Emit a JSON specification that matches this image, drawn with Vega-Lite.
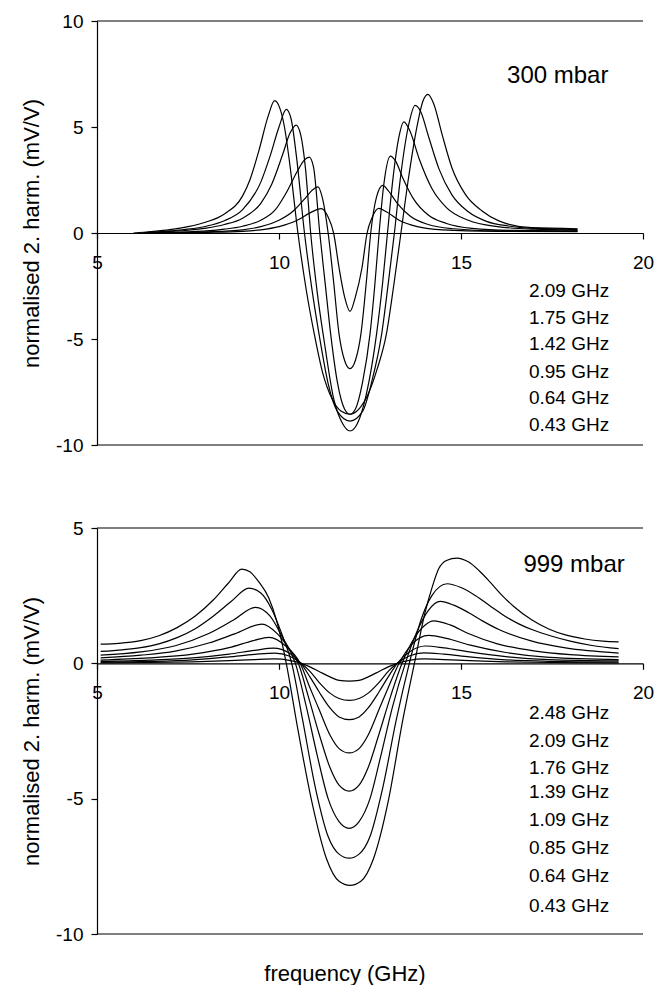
{
"$schema": "https://vega.github.io/schema/vega-lite/v6.json",
"background": "white",
"padding": {"left": 20, "top": 12, "right": 4, "bottom": 4},
"bounds": "flush",
"spacing": 83,
"config": {
 "font": "Liberation Sans",
 "view": {"stroke": null},
 "axis": {"domainColor": "black", "tickColor": "black", "labelColor": "black", "titleColor": "black", "grid": false, "domainWidth": 1.2, "tickWidth": 1.2, "labelFontSize": 19, "titleFontSize": 22, "titleFontWeight": "normal", "labelFont": "Liberation Sans", "titleFont": "Liberation Sans"}
},
"datasets": {
 "top": [
{"m":"2.09 GHz","f":6.0,"v":0.0},{"m":"2.09 GHz","f":6.5,"v":0.07},{"m":"2.09 GHz","f":7.0,"v":0.16},{"m":"2.09 GHz","f":7.5,"v":0.3},{"m":"2.09 GHz","f":8.0,"v":0.52},{"m":"2.09 GHz","f":8.5,"v":0.9},{"m":"2.09 GHz","f":9.0,"v":1.75},{"m":"2.09 GHz","f":9.2,"v":2.5},{"m":"2.09 GHz","f":9.45,"v":3.9},{"m":"2.09 GHz","f":9.7,"v":5.5},{"m":"2.09 GHz","f":9.88,"v":6.24},{"m":"2.09 GHz","f":10.02,"v":5.9},{"m":"2.09 GHz","f":10.15,"v":5.0},{"m":"2.09 GHz","f":10.3,"v":3.2},{"m":"2.09 GHz","f":10.52,"v":0.0},{"m":"2.09 GHz","f":10.75,"v":-2.7},{"m":"2.09 GHz","f":10.97,"v":-4.77},{"m":"2.09 GHz","f":11.2,"v":-6.6},{"m":"2.09 GHz","f":11.45,"v":-7.8},{"m":"2.09 GHz","f":11.7,"v":-8.4},{"m":"2.09 GHz","f":11.95,"v":-8.55},{"m":"2.09 GHz","f":12.2,"v":-8.3},{"m":"2.09 GHz","f":12.45,"v":-7.6},{"m":"2.09 GHz","f":12.7,"v":-6.4},{"m":"2.09 GHz","f":12.95,"v":-4.77},{"m":"2.09 GHz","f":13.15,"v":-2.5},{"m":"2.09 GHz","f":13.35,"v":0.0},{"m":"2.09 GHz","f":13.55,"v":2.5},{"m":"2.09 GHz","f":13.8,"v":5.1},{"m":"2.09 GHz","f":13.95,"v":6.2},{"m":"2.09 GHz","f":14.09,"v":6.54},{"m":"2.09 GHz","f":14.25,"v":6.1},{"m":"2.09 GHz","f":14.48,"v":4.65},{"m":"2.09 GHz","f":14.75,"v":3.08},{"m":"2.09 GHz","f":15.12,"v":1.82},{"m":"2.09 GHz","f":15.58,"v":1.04},{"m":"2.09 GHz","f":16.04,"v":0.57},{"m":"2.09 GHz","f":16.95,"v":0.25},{"m":"2.09 GHz","f":18.2,"v":0.2},
{"m":"1.75 GHz","f":6.2,"v":0.0},{"m":"1.75 GHz","f":7.0,"v":0.1},{"m":"1.75 GHz","f":7.5,"v":0.18},{"m":"1.75 GHz","f":8.0,"v":0.32},{"m":"1.75 GHz","f":8.5,"v":0.58},{"m":"1.75 GHz","f":9.0,"v":1.1},{"m":"1.75 GHz","f":9.5,"v":2.4},{"m":"1.75 GHz","f":9.75,"v":3.6},{"m":"1.75 GHz","f":10.0,"v":5.0},{"m":"1.75 GHz","f":10.2,"v":5.83},{"m":"1.75 GHz","f":10.33,"v":5.4},{"m":"1.75 GHz","f":10.48,"v":3.6},{"m":"1.75 GHz","f":10.7,"v":0.0},{"m":"1.75 GHz","f":10.9,"v":-2.6},{"m":"1.75 GHz","f":11.1,"v":-4.77},{"m":"1.75 GHz","f":11.35,"v":-7.1},{"m":"1.75 GHz","f":11.6,"v":-8.4},{"m":"1.75 GHz","f":11.95,"v":-8.87},{"m":"1.75 GHz","f":12.3,"v":-8.4},{"m":"1.75 GHz","f":12.55,"v":-7.0},{"m":"1.75 GHz","f":12.82,"v":-4.77},{"m":"1.75 GHz","f":13.0,"v":-2.4},{"m":"1.75 GHz","f":13.17,"v":0.0},{"m":"1.75 GHz","f":13.35,"v":2.8},{"m":"1.75 GHz","f":13.55,"v":5.0},{"m":"1.75 GHz","f":13.74,"v":6.02},{"m":"1.75 GHz","f":13.9,"v":5.7},{"m":"1.75 GHz","f":14.1,"v":4.6},{"m":"1.75 GHz","f":14.4,"v":3.0},{"m":"1.75 GHz","f":14.75,"v":1.8},{"m":"1.75 GHz","f":15.2,"v":1.0},{"m":"1.75 GHz","f":15.7,"v":0.55},{"m":"1.75 GHz","f":16.3,"v":0.33},{"m":"1.75 GHz","f":17.0,"v":0.22},{"m":"1.75 GHz","f":18.2,"v":0.17},
{"m":"1.42 GHz","f":6.3,"v":0.0},{"m":"1.42 GHz","f":7.0,"v":0.07},{"m":"1.42 GHz","f":7.5,"v":0.13},{"m":"1.42 GHz","f":8.0,"v":0.23},{"m":"1.42 GHz","f":8.5,"v":0.4},{"m":"1.42 GHz","f":9.0,"v":0.7},{"m":"1.42 GHz","f":9.5,"v":1.4},{"m":"1.42 GHz","f":9.8,"v":2.3},{"m":"1.42 GHz","f":10.1,"v":3.7},{"m":"1.42 GHz","f":10.3,"v":4.7},{"m":"1.42 GHz","f":10.47,"v":5.09},{"m":"1.42 GHz","f":10.6,"v":4.6},{"m":"1.42 GHz","f":10.73,"v":3.0},{"m":"1.42 GHz","f":10.87,"v":0.0},{"m":"1.42 GHz","f":11.05,"v":-2.8},{"m":"1.42 GHz","f":11.25,"v":-5.2},{"m":"1.42 GHz","f":11.5,"v":-7.8},{"m":"1.42 GHz","f":11.75,"v":-9.0},{"m":"1.42 GHz","f":11.95,"v":-9.34},{"m":"1.42 GHz","f":12.15,"v":-9.0},{"m":"1.42 GHz","f":12.4,"v":-7.6},{"m":"1.42 GHz","f":12.68,"v":-4.77},{"m":"1.42 GHz","f":12.85,"v":-2.3},{"m":"1.42 GHz","f":12.98,"v":0.0},{"m":"1.42 GHz","f":13.12,"v":2.4},{"m":"1.42 GHz","f":13.28,"v":4.4},{"m":"1.42 GHz","f":13.43,"v":5.24},{"m":"1.42 GHz","f":13.6,"v":4.8},{"m":"1.42 GHz","f":13.85,"v":3.5},{"m":"1.42 GHz","f":14.2,"v":2.1},{"m":"1.42 GHz","f":14.6,"v":1.2},{"m":"1.42 GHz","f":15.2,"v":0.6},{"m":"1.42 GHz","f":16.0,"v":0.3},{"m":"1.42 GHz","f":17.0,"v":0.18},{"m":"1.42 GHz","f":18.2,"v":0.14},
{"m":"0.95 GHz","f":6.4,"v":0.0},{"m":"0.95 GHz","f":7.5,"v":0.06},{"m":"0.95 GHz","f":8.0,"v":0.1},{"m":"0.95 GHz","f":8.5,"v":0.18},{"m":"0.95 GHz","f":9.0,"v":0.32},{"m":"0.95 GHz","f":9.5,"v":0.6},{"m":"0.95 GHz","f":9.9,"v":1.1},{"m":"0.95 GHz","f":10.2,"v":1.9},{"m":"0.95 GHz","f":10.5,"v":2.9},{"m":"0.95 GHz","f":10.7,"v":3.45},{"m":"0.95 GHz","f":10.83,"v":3.58},{"m":"0.95 GHz","f":10.95,"v":3.1},{"m":"0.95 GHz","f":11.12,"v":0.0},{"m":"0.95 GHz","f":11.27,"v":-2.4},{"m":"0.95 GHz","f":11.42,"v":-4.77},{"m":"0.95 GHz","f":11.6,"v":-7.0},{"m":"0.95 GHz","f":11.8,"v":-8.3},{"m":"0.95 GHz","f":11.95,"v":-8.55},{"m":"0.95 GHz","f":12.1,"v":-8.3},{"m":"0.95 GHz","f":12.3,"v":-7.0},{"m":"0.95 GHz","f":12.5,"v":-4.77},{"m":"0.95 GHz","f":12.63,"v":-2.5},{"m":"0.95 GHz","f":12.75,"v":0.0},{"m":"0.95 GHz","f":12.88,"v":2.3},{"m":"0.95 GHz","f":13.06,"v":3.63},{"m":"0.95 GHz","f":13.2,"v":3.4},{"m":"0.95 GHz","f":13.4,"v":2.6},{"m":"0.95 GHz","f":13.7,"v":1.6},{"m":"0.95 GHz","f":14.1,"v":0.85},{"m":"0.95 GHz","f":14.6,"v":0.45},{"m":"0.95 GHz","f":15.3,"v":0.22},{"m":"0.95 GHz","f":16.5,"v":0.12},{"m":"0.95 GHz","f":18.2,"v":0.1},
{"m":"0.64 GHz","f":6.5,"v":0.0},{"m":"0.64 GHz","f":8.0,"v":0.05},{"m":"0.64 GHz","f":9.0,"v":0.15},{"m":"0.64 GHz","f":9.5,"v":0.3},{"m":"0.64 GHz","f":10.0,"v":0.6},{"m":"0.64 GHz","f":10.4,"v":1.05},{"m":"0.64 GHz","f":10.7,"v":1.6},{"m":"0.64 GHz","f":10.9,"v":2.0},{"m":"0.64 GHz","f":11.07,"v":2.18},{"m":"0.64 GHz","f":11.2,"v":1.6},{"m":"0.64 GHz","f":11.35,"v":0.0},{"m":"0.64 GHz","f":11.5,"v":-2.3},{"m":"0.64 GHz","f":11.65,"v":-4.77},{"m":"0.64 GHz","f":11.8,"v":-6.0},{"m":"0.64 GHz","f":11.95,"v":-6.4},{"m":"0.64 GHz","f":12.1,"v":-6.0},{"m":"0.64 GHz","f":12.25,"v":-4.77},{"m":"0.64 GHz","f":12.4,"v":-2.3},{"m":"0.64 GHz","f":12.52,"v":0.0},{"m":"0.64 GHz","f":12.68,"v":1.7},{"m":"0.64 GHz","f":12.85,"v":2.25},{"m":"0.64 GHz","f":13.0,"v":2.0},{"m":"0.64 GHz","f":13.25,"v":1.4},{"m":"0.64 GHz","f":13.6,"v":0.8},{"m":"0.64 GHz","f":14.1,"v":0.4},{"m":"0.64 GHz","f":14.8,"v":0.2},{"m":"0.64 GHz","f":16.0,"v":0.1},{"m":"0.64 GHz","f":18.2,"v":0.08},
{"m":"0.43 GHz","f":6.5,"v":0.0},{"m":"0.43 GHz","f":8.0,"v":0.03},{"m":"0.43 GHz","f":9.0,"v":0.08},{"m":"0.43 GHz","f":9.5,"v":0.15},{"m":"0.43 GHz","f":10.0,"v":0.3},{"m":"0.43 GHz","f":10.5,"v":0.6},{"m":"0.43 GHz","f":10.85,"v":0.95},{"m":"0.43 GHz","f":11.16,"v":1.15},{"m":"0.43 GHz","f":11.35,"v":0.75},{"m":"0.43 GHz","f":11.5,"v":0.0},{"m":"0.43 GHz","f":11.65,"v":-1.64},{"m":"0.43 GHz","f":11.8,"v":-3.0},{"m":"0.43 GHz","f":11.95,"v":-3.7},{"m":"0.43 GHz","f":12.1,"v":-3.0},{"m":"0.43 GHz","f":12.28,"v":-1.64},{"m":"0.43 GHz","f":12.42,"v":0.0},{"m":"0.43 GHz","f":12.55,"v":0.7},{"m":"0.43 GHz","f":12.74,"v":1.16},{"m":"0.43 GHz","f":12.95,"v":1.0},{"m":"0.43 GHz","f":13.3,"v":0.6},{"m":"0.43 GHz","f":13.8,"v":0.3},{"m":"0.43 GHz","f":14.5,"v":0.15},{"m":"0.43 GHz","f":16.0,"v":0.08},{"m":"0.43 GHz","f":18.2,"v":0.06}
 ],
 "bottom": [
{"m":"2.48 GHz","f":5.1,"v":0.71},{"m":"2.48 GHz","f":5.6,"v":0.74},{"m":"2.48 GHz","f":6.2,"v":0.84},{"m":"2.48 GHz","f":6.7,"v":1.02},{"m":"2.48 GHz","f":7.2,"v":1.32},{"m":"2.48 GHz","f":7.7,"v":1.75},{"m":"2.48 GHz","f":8.2,"v":2.35},{"m":"2.48 GHz","f":8.6,"v":2.95},{"m":"2.48 GHz","f":8.98,"v":3.48},{"m":"2.48 GHz","f":9.2,"v":3.38},{"m":"2.48 GHz","f":9.44,"v":3.02},{"m":"2.48 GHz","f":9.72,"v":2.41},{"m":"2.48 GHz","f":9.95,"v":1.5},{"m":"2.48 GHz","f":10.2,"v":0.0},{"m":"2.48 GHz","f":10.5,"v":-2.3},{"m":"2.48 GHz","f":10.9,"v":-5.1},{"m":"2.48 GHz","f":11.3,"v":-7.2},{"m":"2.48 GHz","f":11.65,"v":-8.05},{"m":"2.48 GHz","f":11.95,"v":-8.2},{"m":"2.48 GHz","f":12.25,"v":-8.05},{"m":"2.48 GHz","f":12.6,"v":-7.2},{"m":"2.48 GHz","f":13.0,"v":-5.1},{"m":"2.48 GHz","f":13.4,"v":-2.1},{"m":"2.48 GHz","f":13.72,"v":0.0},{"m":"2.48 GHz","f":14.02,"v":1.92},{"m":"2.48 GHz","f":14.2,"v":2.78},{"m":"2.48 GHz","f":14.39,"v":3.5},{"m":"2.48 GHz","f":14.6,"v":3.8},{"m":"2.48 GHz","f":14.89,"v":3.89},{"m":"2.48 GHz","f":15.2,"v":3.75},{"m":"2.48 GHz","f":15.5,"v":3.42},{"m":"2.48 GHz","f":15.8,"v":3.0},{"m":"2.48 GHz","f":16.1,"v":2.55},{"m":"2.48 GHz","f":16.45,"v":2.1},{"m":"2.48 GHz","f":16.95,"v":1.6},{"m":"2.48 GHz","f":17.41,"v":1.27},{"m":"2.48 GHz","f":17.87,"v":1.05},{"m":"2.48 GHz","f":18.4,"v":0.9},{"m":"2.48 GHz","f":18.9,"v":0.82},{"m":"2.48 GHz","f":19.33,"v":0.79},
{"m":"2.09 GHz","f":5.1,"v":0.44},{"m":"2.09 GHz","f":5.7,"v":0.5},{"m":"2.09 GHz","f":6.2,"v":0.58},{"m":"2.09 GHz","f":6.7,"v":0.72},{"m":"2.09 GHz","f":7.2,"v":0.95},{"m":"2.09 GHz","f":7.7,"v":1.28},{"m":"2.09 GHz","f":8.2,"v":1.75},{"m":"2.09 GHz","f":8.7,"v":2.3},{"m":"2.09 GHz","f":9.17,"v":2.78},{"m":"2.09 GHz","f":9.5,"v":2.6},{"m":"2.09 GHz","f":9.8,"v":2.0},{"m":"2.09 GHz","f":10.1,"v":1.0},{"m":"2.09 GHz","f":10.35,"v":0.0},{"m":"2.09 GHz","f":10.65,"v":-2.1},{"m":"2.09 GHz","f":11.0,"v":-4.6},{"m":"2.09 GHz","f":11.35,"v":-6.4},{"m":"2.09 GHz","f":11.65,"v":-7.05},{"m":"2.09 GHz","f":11.93,"v":-7.2},{"m":"2.09 GHz","f":12.2,"v":-7.05},{"m":"2.09 GHz","f":12.5,"v":-6.4},{"m":"2.09 GHz","f":12.85,"v":-4.6},{"m":"2.09 GHz","f":13.22,"v":-2.1},{"m":"2.09 GHz","f":13.58,"v":0.0},{"m":"2.09 GHz","f":13.9,"v":1.6},{"m":"2.09 GHz","f":14.2,"v":2.5},{"m":"2.09 GHz","f":14.62,"v":2.94},{"m":"2.09 GHz","f":15.0,"v":2.8},{"m":"2.09 GHz","f":15.4,"v":2.5},{"m":"2.09 GHz","f":15.8,"v":2.12},{"m":"2.09 GHz","f":16.2,"v":1.75},{"m":"2.09 GHz","f":16.6,"v":1.45},{"m":"2.09 GHz","f":17.0,"v":1.22},{"m":"2.09 GHz","f":17.5,"v":1.0},{"m":"2.09 GHz","f":18.0,"v":0.82},{"m":"2.09 GHz","f":18.6,"v":0.66},{"m":"2.09 GHz","f":19.33,"v":0.54},
{"m":"1.76 GHz","f":5.1,"v":0.3},{"m":"1.76 GHz","f":6.2,"v":0.42},{"m":"1.76 GHz","f":7.15,"v":0.65},{"m":"1.76 GHz","f":8.07,"v":1.1},{"m":"1.76 GHz","f":8.75,"v":1.6},{"m":"1.76 GHz","f":9.35,"v":2.07},{"m":"1.76 GHz","f":9.75,"v":1.75},{"m":"1.76 GHz","f":10.1,"v":0.95},{"m":"1.76 GHz","f":10.45,"v":0.0},{"m":"1.76 GHz","f":10.75,"v":-1.6},{"m":"1.76 GHz","f":11.05,"v":-3.4},{"m":"1.76 GHz","f":11.35,"v":-5.0},{"m":"1.76 GHz","f":11.65,"v":-5.85},{"m":"1.76 GHz","f":11.93,"v":-6.1},{"m":"1.76 GHz","f":12.2,"v":-5.85},{"m":"1.76 GHz","f":12.5,"v":-5.0},{"m":"1.76 GHz","f":12.8,"v":-3.4},{"m":"1.76 GHz","f":13.12,"v":-1.6},{"m":"1.76 GHz","f":13.47,"v":0.0},{"m":"1.76 GHz","f":13.8,"v":1.2},{"m":"1.76 GHz","f":14.1,"v":1.95},{"m":"1.76 GHz","f":14.43,"v":2.29},{"m":"1.76 GHz","f":14.8,"v":2.15},{"m":"1.76 GHz","f":15.2,"v":1.88},{"m":"1.76 GHz","f":15.6,"v":1.56},{"m":"1.76 GHz","f":16.04,"v":1.25},{"m":"1.76 GHz","f":16.95,"v":0.82},{"m":"1.76 GHz","f":17.87,"v":0.57},{"m":"1.76 GHz","f":19.33,"v":0.38},
{"m":"1.39 GHz","f":5.1,"v":0.2},{"m":"1.39 GHz","f":6.2,"v":0.3},{"m":"1.39 GHz","f":7.15,"v":0.45},{"m":"1.39 GHz","f":8.07,"v":0.75},{"m":"1.39 GHz","f":8.8,"v":1.1},{"m":"1.39 GHz","f":9.53,"v":1.45},{"m":"1.39 GHz","f":9.95,"v":1.1},{"m":"1.39 GHz","f":10.25,"v":0.6},{"m":"1.39 GHz","f":10.53,"v":0.0},{"m":"1.39 GHz","f":10.8,"v":-1.2},{"m":"1.39 GHz","f":11.1,"v":-2.6},{"m":"1.39 GHz","f":11.4,"v":-3.85},{"m":"1.39 GHz","f":11.65,"v":-4.5},{"m":"1.39 GHz","f":11.93,"v":-4.72},{"m":"1.39 GHz","f":12.2,"v":-4.5},{"m":"1.39 GHz","f":12.45,"v":-3.85},{"m":"1.39 GHz","f":12.75,"v":-2.6},{"m":"1.39 GHz","f":13.07,"v":-1.2},{"m":"1.39 GHz","f":13.38,"v":0.0},{"m":"1.39 GHz","f":13.7,"v":0.9},{"m":"1.39 GHz","f":14.0,"v":1.4},{"m":"1.39 GHz","f":14.25,"v":1.57},{"m":"1.39 GHz","f":14.7,"v":1.42},{"m":"1.39 GHz","f":15.2,"v":1.1},{"m":"1.39 GHz","f":16.0,"v":0.72},{"m":"1.39 GHz","f":17.0,"v":0.46},{"m":"1.39 GHz","f":18.0,"v":0.32},{"m":"1.39 GHz","f":19.33,"v":0.24},
{"m":"1.09 GHz","f":5.1,"v":0.12},{"m":"1.09 GHz","f":6.43,"v":0.2},{"m":"1.09 GHz","f":7.63,"v":0.34},{"m":"1.09 GHz","f":8.63,"v":0.58},{"m":"1.09 GHz","f":9.3,"v":0.84},{"m":"1.09 GHz","f":9.72,"v":0.96},{"m":"1.09 GHz","f":10.2,"v":0.62},{"m":"1.09 GHz","f":10.58,"v":0.0},{"m":"1.09 GHz","f":10.85,"v":-0.9},{"m":"1.09 GHz","f":11.1,"v":-1.7},{"m":"1.09 GHz","f":11.4,"v":-2.65},{"m":"1.09 GHz","f":11.65,"v":-3.15},{"m":"1.09 GHz","f":11.93,"v":-3.31},{"m":"1.09 GHz","f":12.2,"v":-3.15},{"m":"1.09 GHz","f":12.45,"v":-2.65},{"m":"1.09 GHz","f":12.75,"v":-1.7},{"m":"1.09 GHz","f":13.0,"v":-0.9},{"m":"1.09 GHz","f":13.3,"v":0.0},{"m":"1.09 GHz","f":13.65,"v":0.7},{"m":"1.09 GHz","f":14.11,"v":1.03},{"m":"1.09 GHz","f":14.6,"v":0.92},{"m":"1.09 GHz","f":15.23,"v":0.68},{"m":"1.09 GHz","f":16.23,"v":0.4},{"m":"1.09 GHz","f":17.43,"v":0.22},{"m":"1.09 GHz","f":19.33,"v":0.14},
{"m":"0.85 GHz","f":5.1,"v":0.07},{"m":"0.85 GHz","f":6.43,"v":0.12},{"m":"0.85 GHz","f":7.63,"v":0.2},{"m":"0.85 GHz","f":8.63,"v":0.34},{"m":"0.85 GHz","f":9.33,"v":0.48},{"m":"0.85 GHz","f":9.85,"v":0.56},{"m":"0.85 GHz","f":10.28,"v":0.38},{"m":"0.85 GHz","f":10.6,"v":0.0},{"m":"0.85 GHz","f":10.85,"v":-0.5},{"m":"0.85 GHz","f":11.1,"v":-1.05},{"m":"0.85 GHz","f":11.4,"v":-1.65},{"m":"0.85 GHz","f":11.65,"v":-1.98},{"m":"0.85 GHz","f":11.93,"v":-2.08},{"m":"0.85 GHz","f":12.2,"v":-1.98},{"m":"0.85 GHz","f":12.45,"v":-1.65},{"m":"0.85 GHz","f":12.75,"v":-1.05},{"m":"0.85 GHz","f":13.0,"v":-0.5},{"m":"0.85 GHz","f":13.25,"v":0.0},{"m":"0.85 GHz","f":13.58,"v":0.42},{"m":"0.85 GHz","f":14.02,"v":0.64},{"m":"0.85 GHz","f":14.53,"v":0.57},{"m":"0.85 GHz","f":15.23,"v":0.42},{"m":"0.85 GHz","f":16.23,"v":0.25},{"m":"0.85 GHz","f":17.43,"v":0.14},{"m":"0.85 GHz","f":19.33,"v":0.09},
{"m":"0.64 GHz","f":5.1,"v":0.04},{"m":"0.64 GHz","f":6.43,"v":0.07},{"m":"0.64 GHz","f":7.63,"v":0.13},{"m":"0.64 GHz","f":8.63,"v":0.24},{"m":"0.64 GHz","f":9.33,"v":0.33},{"m":"0.64 GHz","f":9.88,"v":0.38},{"m":"0.64 GHz","f":10.28,"v":0.27},{"m":"0.64 GHz","f":10.61,"v":0.0},{"m":"0.64 GHz","f":10.85,"v":-0.3},{"m":"0.64 GHz","f":11.1,"v":-0.7},{"m":"0.64 GHz","f":11.4,"v":-1.1},{"m":"0.64 GHz","f":11.65,"v":-1.3},{"m":"0.64 GHz","f":11.93,"v":-1.37},{"m":"0.64 GHz","f":12.2,"v":-1.3},{"m":"0.64 GHz","f":12.45,"v":-1.1},{"m":"0.64 GHz","f":12.75,"v":-0.7},{"m":"0.64 GHz","f":13.0,"v":-0.3},{"m":"0.64 GHz","f":13.25,"v":0.0},{"m":"0.64 GHz","f":13.58,"v":0.27},{"m":"0.64 GHz","f":13.98,"v":0.39},{"m":"0.64 GHz","f":14.53,"v":0.34},{"m":"0.64 GHz","f":15.23,"v":0.24},{"m":"0.64 GHz","f":16.23,"v":0.13},{"m":"0.64 GHz","f":17.43,"v":0.075},{"m":"0.64 GHz","f":19.33,"v":0.05},
{"m":"0.43 GHz","f":5.1,"v":0.02},{"m":"0.43 GHz","f":6.43,"v":0.03},{"m":"0.43 GHz","f":7.63,"v":0.056},{"m":"0.43 GHz","f":8.63,"v":0.1},{"m":"0.43 GHz","f":9.33,"v":0.14},{"m":"0.43 GHz","f":9.88,"v":0.162},{"m":"0.43 GHz","f":10.28,"v":0.112},{"m":"0.43 GHz","f":10.61,"v":0.0},{"m":"0.43 GHz","f":10.85,"v":-0.13},{"m":"0.43 GHz","f":11.1,"v":-0.3},{"m":"0.43 GHz","f":11.4,"v":-0.5},{"m":"0.43 GHz","f":11.65,"v":-0.63},{"m":"0.43 GHz","f":11.93,"v":-0.66},{"m":"0.43 GHz","f":12.2,"v":-0.63},{"m":"0.43 GHz","f":12.45,"v":-0.5},{"m":"0.43 GHz","f":12.75,"v":-0.3},{"m":"0.43 GHz","f":13.0,"v":-0.13},{"m":"0.43 GHz","f":13.25,"v":0.0},{"m":"0.43 GHz","f":13.58,"v":0.112},{"m":"0.43 GHz","f":13.98,"v":0.162},{"m":"0.43 GHz","f":14.53,"v":0.14},{"m":"0.43 GHz","f":15.23,"v":0.1},{"m":"0.43 GHz","f":16.23,"v":0.056},{"m":"0.43 GHz","f":17.43,"v":0.03},{"m":"0.43 GHz","f":19.33,"v":0.02}
 ],
 "topLabels": [
  {"label":"2.09 GHz","f":19.07,"v":-2.74},{"label":"1.75 GHz","f":19.07,"v":-4.01},{"label":"1.42 GHz","f":19.07,"v":-5.24},{"label":"0.95 GHz","f":19.07,"v":-6.56},{"label":"0.64 GHz","f":19.07,"v":-7.79},{"label":"0.43 GHz","f":19.07,"v":-9.06}
 ],
 "bottomLabels": [
  {"label":"2.48 GHz","f":19.07,"v":-1.83},{"label":"2.09 GHz","f":19.07,"v":-2.87},{"label":"1.76 GHz","f":19.07,"v":-3.87},{"label":"1.39 GHz","f":19.07,"v":-4.76},{"label":"1.09 GHz","f":19.07,"v":-5.79},{"label":"0.85 GHz","f":19.07,"v":-6.82},{"label":"0.64 GHz","f":19.07,"v":-7.85},{"label":"0.43 GHz","f":19.07,"v":-8.96}
 ],
 "topTitle": [{"label":"300 mbar","f":19.05,"v":7.4}],
 "bottomTitle": [{"label":"999 mbar","f":19.5,"v":3.65}],
 "one": [{"k":1}]
},
"vconcat": [
 {
  "width": 546, "height": 424,
  "layer": [
   {"data": {"name": "one"}, "mark": {"type": "rule", "color": "black", "strokeWidth": 1.2}, "encoding": {"y": {"datum": 10, "type": "quantitative", "scale": {"domain": [-10, 10]}, "title": "normalised 2. harm. (mV/V)"}}},
   {"data": {"name": "one"}, "mark": {"type": "rule", "color": "black", "strokeWidth": 1.2}, "encoding": {"y": {"datum": -10, "type": "quantitative", "scale": {"domain": [-10, 10]}, "title": "normalised 2. harm. (mV/V)"}}},
   {"data": {"name": "top"}, "mark": {"type": "line", "interpolate": "monotone", "color": "black", "strokeWidth": 1.2},
    "encoding": {
     "x": {"field": "f", "type": "quantitative", "title": null, "scale": {"domain": [5, 20], "nice": false, "zero": false},
       "axis": {"orient": "bottom", "offset": -212, "values": [5, 10, 15, 20], "tickSize": 6, "labelPadding": 14, "labelFlush": false, "labelExpr": "'' + datum.value"}},
     "y": {"field": "v", "type": "quantitative", "title": "normalised 2. harm. (mV/V)", "scale": {"domain": [-10, 10], "nice": false, "zero": false},
       "axis": {"values": [-10, -5, 0, 5, 10], "tickSize": 6, "labelPadding": 8, "titlePadding": 12, "labelExpr": "'' + datum.value"}},
     "detail": {"field": "m"}
    }},
   {"data": {"name": "topLabels"}, "mark": {"type": "text", "align": "right", "fontSize": 19, "color": "black"},
    "encoding": {"x": {"field": "f", "type": "quantitative", "title": null}, "y": {"field": "v", "type": "quantitative", "title": "normalised 2. harm. (mV/V)"}, "text": {"field": "label"}}},
   {"data": {"name": "topTitle"}, "mark": {"type": "text", "align": "right", "fontSize": 24, "color": "black"},
    "encoding": {"x": {"field": "f", "type": "quantitative", "title": null}, "y": {"field": "v", "type": "quantitative", "title": "normalised 2. harm. (mV/V)"}, "text": {"field": "label"}}}
  ]
 },
 {
  "width": 546, "height": 406,
  "title": {"text": "frequency (GHz)", "orient": "bottom", "anchor": "middle", "frame": "group", "fontSize": 22, "fontWeight": "normal", "font": "Liberation Sans", "color": "black", "offset": 20, "dx": -25},
  "layer": [
   {"data": {"name": "one"}, "mark": {"type": "rule", "color": "black", "strokeWidth": 1.2}, "encoding": {"y": {"datum": 5, "type": "quantitative", "scale": {"domain": [-10, 5]}, "title": "normalised 2. harm. (mV/V)"}}},
   {"data": {"name": "one"}, "mark": {"type": "rule", "color": "black", "strokeWidth": 1.2}, "encoding": {"y": {"datum": -10, "type": "quantitative", "scale": {"domain": [-10, 5]}, "title": "normalised 2. harm. (mV/V)"}}},
   {"data": {"name": "bottom"}, "mark": {"type": "line", "interpolate": "monotone", "color": "black", "strokeWidth": 1.2},
    "encoding": {
     "x": {"field": "f", "type": "quantitative", "title": null, "scale": {"domain": [5, 20], "nice": false, "zero": false},
       "axis": {"orient": "bottom", "offset": -270.7, "values": [5, 10, 15, 20], "tickSize": 6, "labelPadding": 14, "labelFlush": false, "labelExpr": "'' + datum.value"}},
     "y": {"field": "v", "type": "quantitative", "title": "normalised 2. harm. (mV/V)", "scale": {"domain": [-10, 5], "nice": false, "zero": false},
       "axis": {"values": [-10, -5, 0, 5], "tickSize": 6, "labelPadding": 8, "titlePadding": 12, "labelExpr": "'' + datum.value"}},
     "detail": {"field": "m"}
    }},
   {"data": {"name": "bottomLabels"}, "mark": {"type": "text", "align": "right", "fontSize": 19, "color": "black"},
    "encoding": {"x": {"field": "f", "type": "quantitative", "title": null}, "y": {"field": "v", "type": "quantitative", "title": "normalised 2. harm. (mV/V)"}, "text": {"field": "label"}}},
   {"data": {"name": "bottomTitle"}, "mark": {"type": "text", "align": "right", "fontSize": 24, "color": "black"},
    "encoding": {"x": {"field": "f", "type": "quantitative", "title": null}, "y": {"field": "v", "type": "quantitative", "title": "normalised 2. harm. (mV/V)"}, "text": {"field": "label"}}}
  ]
 }
]
}
